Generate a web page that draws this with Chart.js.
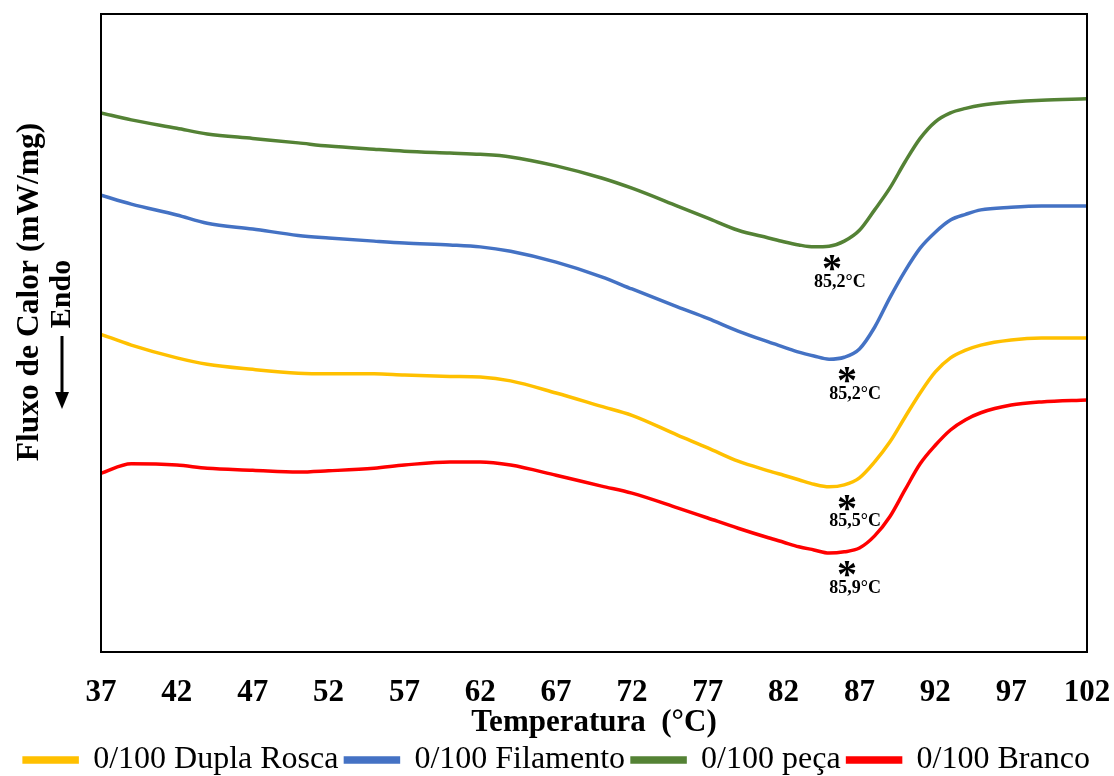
<!DOCTYPE html>
<html>
<head>
<meta charset="utf-8">
<script src="https://cdn.jsdelivr.net/npm/chart.js@4/dist/chart.umd.min.js"></script>
<style>
  html, body { margin: 0; padding: 0; background: #fff; }
  #wrap { width: 1114px; height: 776px; }
</style>
</head>
<body>
<div id="wrap"><canvas id="dsc"></canvas></div>
<script>
// temperaturas (°C) e fluxo de calor (unidades arbitrárias, curvas deslocadas)
var temps = [37,39,42,44,47,50,52,55,57,60,62,64,67,70,72,75,77,79,81,82,83,84,85,86,87,88,89,90,91,92,93,94,95,97,99,102];
var duplaRosca = [4.98,4.81,4.61,4.51,4.43,4.37,4.36,4.36,4.34,4.32,4.31,4.25,4.06,3.85,3.71,3.40,3.20,2.99,2.84,2.77,2.70,2.63,2.59,2.62,2.73,2.98,3.29,3.68,4.06,4.39,4.61,4.73,4.81,4.89,4.92,4.92];
var filamento = [7.16,7.02,6.85,6.72,6.63,6.53,6.49,6.44,6.41,6.38,6.35,6.28,6.11,5.88,5.69,5.41,5.23,5.03,4.86,4.78,4.70,4.64,4.59,4.62,4.75,5.09,5.55,5.97,6.33,6.58,6.77,6.86,6.93,6.97,6.99,6.99];
var peca = [8.45,8.34,8.21,8.12,8.05,7.98,7.93,7.88,7.85,7.82,7.80,7.76,7.62,7.43,7.27,6.99,6.80,6.61,6.49,6.43,6.38,6.35,6.36,6.44,6.61,6.93,7.27,7.68,8.05,8.31,8.45,8.52,8.57,8.62,8.65,8.67];
var branco = [2.80,2.95,2.93,2.88,2.85,2.82,2.84,2.88,2.93,2.98,2.98,2.93,2.77,2.60,2.49,2.26,2.10,1.94,1.79,1.72,1.65,1.60,1.55,1.57,1.63,1.82,2.12,2.54,2.95,3.24,3.48,3.64,3.75,3.87,3.92,3.95];

var seriesNames = ['0/100 Dupla Rosca', '0/100 Filamento', '0/100 peça', '0/100 Branco'];
var seriesColors = ['#FFC000', '#4472C4', '#548235', '#FF0000'];
var peakLabels = ['85,5°C', '85,2°C', '85,2°C', '85,9°C'];
var xTicks = [37,42,47,52,57,62,67,72,77,82,87,92,97,102];

var serif = '"Liberation Serif", "Times New Roman", serif';

function toPoints(ys) {
  return temps.map(function (t, i) { return { x: t, y: ys[i] }; });
}

var allSeries = [duplaRosca, filamento, peca, branco];
var datasets = allSeries.map(function (ys, i) {
  return {
    label: seriesNames[i],
    data: toPoints(ys),
    borderColor: seriesColors[i],
    backgroundColor: seriesColors[i],
    borderWidth: 3.5,
    pointRadius: 0,
    cubicInterpolationMode: 'monotone',
    fill: false
  };
});

// moldura, título do eixo y e marcas dos picos
var extras = {
  id: 'extras',
  afterDraw: function (chart) {
    var ctx = chart.ctx, a = chart.chartArea;
    var xs = chart.scales.x, ys = chart.scales.y;
    ctx.save();
    ctx.strokeStyle = '#000';
    ctx.lineWidth = 2;
    ctx.strokeRect(a.left, a.top, a.right - a.left, a.bottom - a.top);

    // eixo y
    ctx.fillStyle = '#000';
    ctx.textAlign = 'center';
    ctx.textBaseline = 'middle';
    ctx.save();
    ctx.translate(30, 292);
    ctx.rotate(-Math.PI / 2);
    ctx.font = 'bold 31.5px ' + serif;
    ctx.fillText('Fluxo de Calor (mW/mg)', 0, 0);
    ctx.restore();
    ctx.save();
    ctx.translate(62, 294);
    ctx.rotate(-Math.PI / 2);
    ctx.font = 'bold 30px ' + serif;
    ctx.fillText('Endo', 0, 0);
    ctx.restore();
    ctx.lineWidth = 3;
    ctx.beginPath();
    ctx.moveTo(62, 336);
    ctx.lineTo(62, 396);
    ctx.stroke();
    ctx.beginPath();
    ctx.moveTo(55, 392);
    ctx.lineTo(69, 392);
    ctx.lineTo(62, 409);
    ctx.closePath();
    ctx.fill();

    // picos: asterisco + temperatura abaixo do mínimo de cada curva
    allSeries.forEach(function (s, i) {
      var k = 0;
      for (var j = 1; j < s.length; j++) if (s[j] < s[k]) k = j;
      var px = xs.getPixelForValue(temps[k]) + 18;
      var py = ys.getPixelForValue(s[k]) + 14;
      ctx.font = 'bold 40px ' + serif;
      ctx.fillText('*', px, py + 10);
      ctx.font = 'bold 18px ' + serif;
      ctx.fillText(peakLabels[i], px + 8, py + 21);
    });
    ctx.restore();
  }
};

new Chart(document.getElementById('dsc'), {
  type: 'line',
  data: { datasets: datasets },
  options: {
    responsive: true,
    maintainAspectRatio: false,
    animation: false,
    devicePixelRatio: 1,
    layout: { padding: { left: 0, right: 0, top: 14, bottom: -10 } },
    scales: {
      x: {
        type: 'linear',
        min: 37,
        max: 102,
        afterBuildTicks: function (scale) {
          scale.ticks = xTicks.map(function (v) { return { value: v }; });
        },
        afterFit: function (scale) {
          scale.height = 85;
          scale.paddingLeft = 0;
          scale.paddingRight = 0;
        },
        grid: { display: false, drawTicks: false },
        border: { display: false },
        ticks: {
          padding: 22,
          maxRotation: 0,
          autoSkip: false,
          color: '#000',
          font: { family: serif, size: 31, weight: 'bold' }
        },
        title: {
          display: true,
          text: 'Temperatura  (°C)',
          color: '#000',
          font: { family: serif, size: 31, weight: 'bold', lineHeight: 1 },
          padding: { top: 0, bottom: -1 }
        }
      },
      y: {
        min: 0,
        max: 10,
        afterFit: function (scale) { scale.width = 101; },
        grid: { display: false, drawTicks: false },
        border: { display: false },
        ticks: { display: false }
      },
      yRight: {
        position: 'right',
        min: 0,
        max: 1,
        afterFit: function (scale) { scale.width = 27; },
        grid: { display: false, drawTicks: false },
        border: { display: false },
        ticks: { display: false }
      }
    },
    plugins: {
      legend: {
        position: 'bottom',
        labels: {
          boxWidth: 53,
          boxHeight: 4,
          padding: 7,
          color: '#000',
          font: { family: serif, size: 32 }
        }
      },
      tooltip: { enabled: false }
    }
  },
  plugins: [extras]
});
</script>
</body>
</html>
